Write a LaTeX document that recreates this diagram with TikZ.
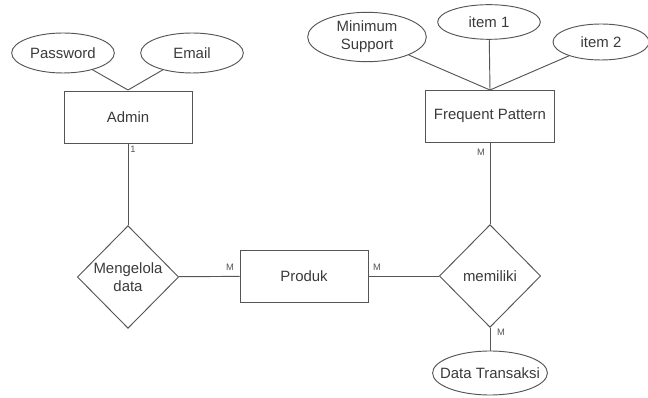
\documentclass[tikz,border=0pt]{standalone}
\usepackage{fontspec}
\setmainfont{Liberation Sans}
\usetikzlibrary{shapes.geometric}
\definecolor{ln}{HTML}{555555}
\definecolor{tx}{HTML}{3A3A3A}
\tikzset{
  every node/.style={font=\fontsize{11.2}{13.5}\selectfont, text=tx},
  ent/.style={draw=ln, line width=0.7pt, rectangle, minimum width=96pt, minimum height=39pt, inner sep=0pt},
  attr/.style={draw=ln, line width=0.7pt, ellipse, inner sep=0pt, align=center},
  rel/.style={draw=ln, line width=0.7pt, diamond, inner sep=0pt, minimum width=76pt, minimum height=77pt, align=center},
  conn/.style={draw=ln, line width=0.7pt},
  card/.style={font=\fontsize{7}{8}\selectfont, text=ln, inner sep=1pt}
}
\begin{document}
\begin{tikzpicture}[x=0.75pt,y=-0.75pt]
\useasboundingbox (0,0) rectangle (648,398);
% entities
\node[ent] (admin) at (128,117) {Admin};
\node[ent, minimum width=97pt] (fp) at (490,116) {Frequent Pattern};
\node[ent] (produk) at (304,276) {Produk};
% relationships
\node[rel] (mengelola) at (128,277) {Mengelola\\data};
\node[rel] (memiliki) at (490,276) {memiliki};
% attributes
\node[attr, minimum width=77pt, minimum height=30pt] (pass) at (63,53) {Password};
\node[attr, minimum width=77pt, minimum height=30pt] (email) at (192,53) {Email};
\node[attr, minimum width=89pt, minimum height=37pt] (minsup) at (367,37) {Minimum\\Support};
\node[attr, minimum width=77pt, minimum height=26pt] (item1) at (489,22) {item 1};
\node[attr, minimum width=72pt, minimum height=27pt] (item2) at (601,42) {item 2};
\node[attr, inner xsep=-7pt, minimum height=33pt] (dt) at (490,373) {Data Transaksi};
% connectors
\coordinate (adtop) at (128,90);
\coordinate (fptop) at (490,90);
\draw[conn] (pass) -- (adtop);
\draw[conn] (email) -- (adtop);
\draw[conn] (minsup) -- (fptop);
\draw[conn] (item1) -- (fptop);
\draw[conn] (item2) -- (fptop);
\draw[conn] (admin) -- (mengelola);
\draw[conn] (mengelola) -- (produk);
\draw[conn] (produk) -- (memiliki);
\draw[conn] (fp) -- (memiliki);
\draw[conn] (memiliki) -- (dt);
% cardinalities
\node[card] (c1) at (133,149) {1};
\node[card] (c2) at (230,267) {M};
\node[card] (c3) at (377,267) {M};
\node[card] (c4) at (481,152) {M};
\node[card] (c5) at (501,332) {M};
\end{tikzpicture}
\end{document}
